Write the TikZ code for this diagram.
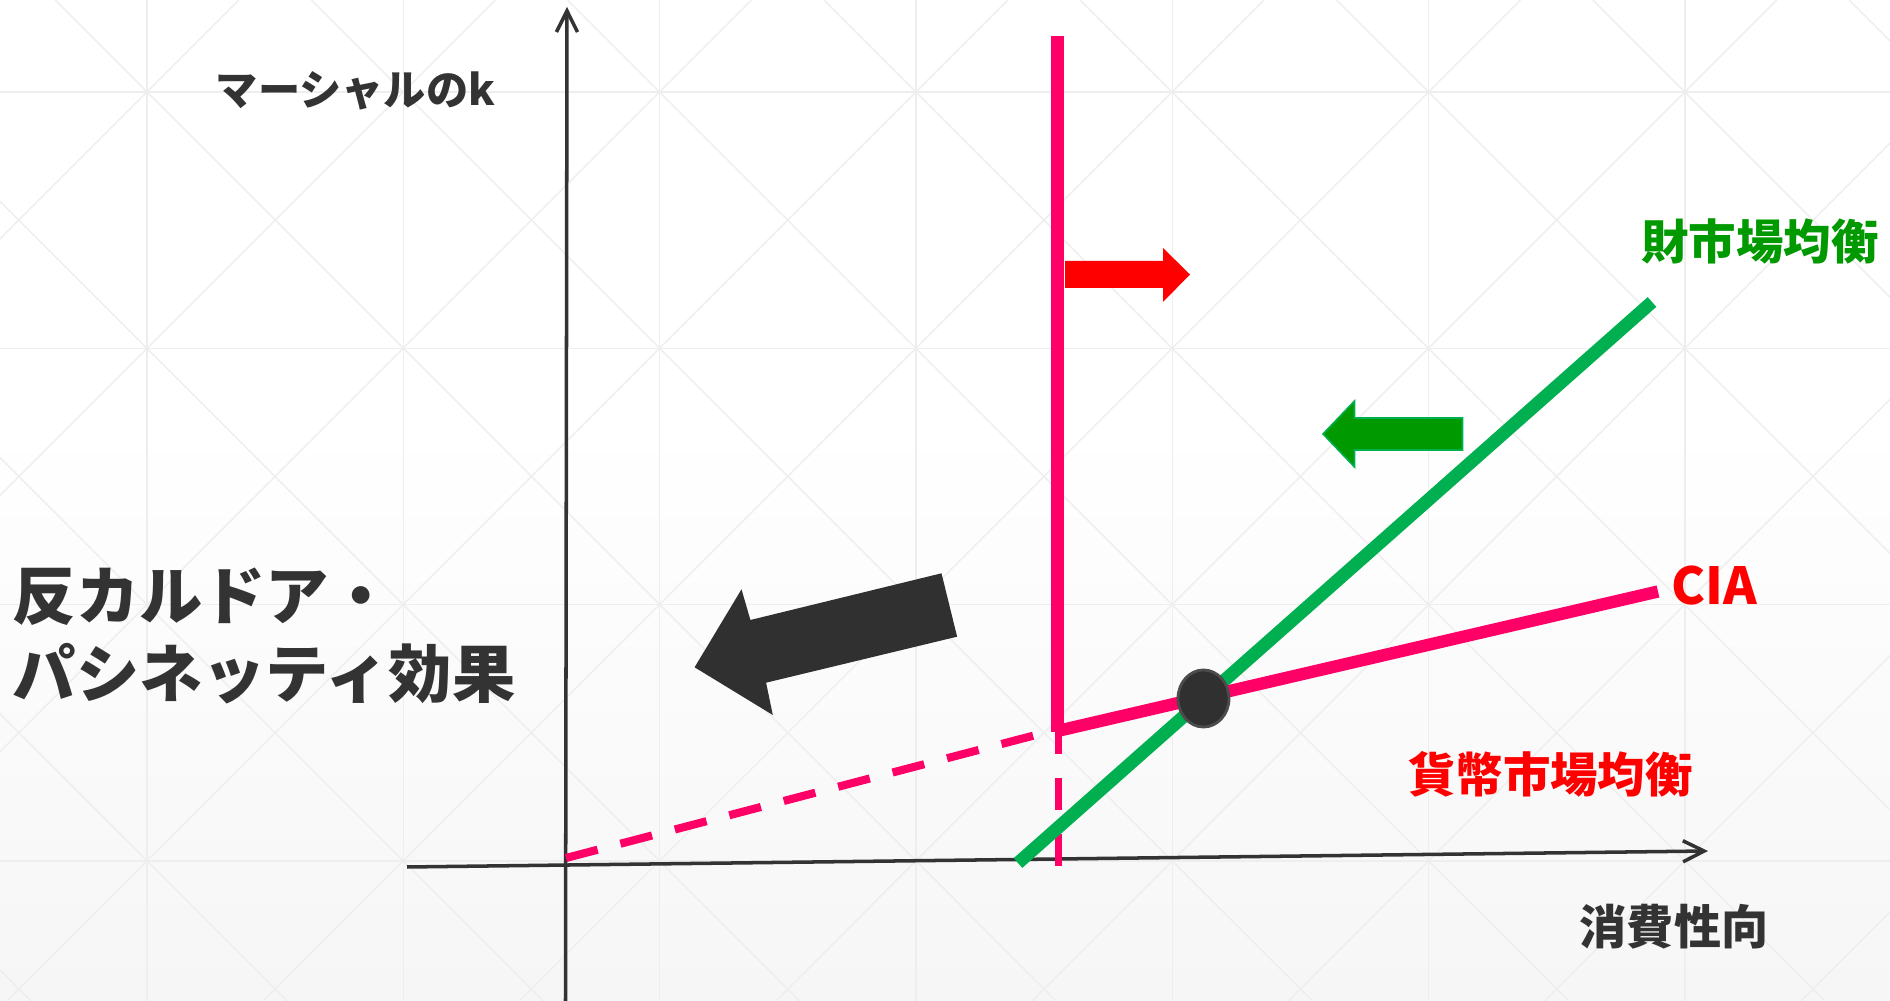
\documentclass[tikz,border=0pt]{standalone}
\usepackage{fontspec}
\newfontfamily\jp{Noto Sans CJK JP}
\usetikzlibrary{arrows.meta,shapes.geometric}
\definecolor{pinkline}{HTML}{FF0066}
\definecolor{greenline}{HTML}{00B050}
\definecolor{greenfill}{HTML}{009900}
\definecolor{redfill}{HTML}{FF0000}
\definecolor{inkgray}{HTML}{333333}
\definecolor{arrowgray}{HTML}{303030}
\definecolor{gridgray}{HTML}{EEEEEE}
\definecolor{bgbottom}{HTML}{F6F6F6}
\tikzset{
  gridline/.style={draw=gridgray,line width=0.4pt},
  axisline/.style={draw=inkgray,line width=1pt,-{Straight Barb[length=6pt,width=6pt,line width=1pt]}},
  thickpink/.style={draw=pinkline,line width=3.5pt,line cap=butt},
  dashpinkA/.style={draw=pinkline,line width=2.3pt,dash pattern=on 9.3pt off 6.7pt},
  dashpinkB/.style={draw=pinkline,line width=2.1pt,dash pattern=on 9.1pt off 6.8pt},
  thickgreen/.style={draw=greenline,line width=3.7pt,line cap=butt},
  eqdot/.style={ellipse,fill=arrowgray,draw=black!70,line width=0.8pt,minimum width=0.51cm,minimum height=0.57cm,inner sep=0pt},
  lbl/.style={inner sep=0pt,font=\jp\bfseries},
}
\begin{document}
\begin{tikzpicture}[x=0.01cm,y=-0.01cm]
\useasboundingbox (0,0) rectangle (1890,1001);
\fill[white] (0,0) rectangle (1890,1001);
\shade[top color=white,bottom color=bgbottom] (0,420) rectangle (1890,1001);
% background grid
\begin{scope}
\clip (0,0) rectangle (1890,1001);
\foreach \k in {0,...,7} \draw[gridline] ({147+256.3*(\k-1)},0) -- ({147+256.3*(\k-1)},1001);
\foreach \k in {0,...,3} \draw[gridline] (0,{92+256.3*\k}) -- (1890,{92+256.3*\k});
\foreach \k in {-4,...,7} \draw[gridline] ({55+256.3*\k},0) -- ({1056+256.3*\k},1001);
\foreach \k in {-1,...,10} \draw[gridline] ({239+256.3*\k},0) -- ({-762+256.3*\k},1001);
\end{scope}
% axes
\coordinate (yb) at (565.5,1001);
\coordinate (yt) at (567,7);
\coordinate (xl) at (407,867);
\coordinate (xr) at (1708,851);
\draw[axisline] (yb) -- (yt);
\draw[axisline] (xl) -- (xr);
% dashed pink
\coordinate (o) at (566,858);
\coordinate (kink) at (1055,730);
\draw[dashpinkA] (o) -- (kink);
\coordinate (vd1) at (1058.5,722);
\coordinate (vd2) at (1058.5,867);
\draw[dashpinkB] (vd1) -- (vd2);
% green line
\coordinate (gA) at (1018,863);
\coordinate (gB) at (1652,302);
\draw[thickgreen] (gA) -- (gB);
% pink solid
\coordinate (vtop) at (1057.5,36);
\coordinate (vbot) at (1057.5,732);
\coordinate (ciaL) at (1057.5,731);
\coordinate (ciaR) at (1658,591.5);
\draw[thickpink] (vtop) -- (vbot);
\draw[thickpink] (ciaL) -- (ciaR);
% equilibrium dot
\node[eqdot] (eq) at (1203.5,698.5) {};
% red block arrow
\fill[redfill] (1065,261) -- (1163,261) -- (1163,248) -- (1190,274.5) -- (1163,302) -- (1163,288) -- (1065,288) -- cycle;
% green block arrow
\filldraw[fill=greenfill,draw=greenline,line width=0.45pt] (1462.5,418) -- (1354.5,418) -- (1354.5,401) -- (1323,434) -- (1354.5,467) -- (1354.5,450) -- (1462.5,450) -- cycle;
% black block arrow
\fill[arrowgray] (694.6,667.3) -- (741.5,589.3) -- (750.4,620) -- (941.5,573.3) -- (957.1,636.7) -- (766.1,682.7) -- (772.8,715) -- cycle;
% labels
\node[lbl,text=inkgray,font=\jp\bfseries\fontsize{12pt}{14pt}\selectfont] (ylab) at (355.5,90.5) {マーシャルのk};
\node[lbl,text=greenfill,font=\jp\bfseries\fontsize{13.5pt}{16pt}\selectfont] (gm) at (1760,241.5) {財市場均衡};
\node[lbl,text=redfill,font=\jp\bfseries\fontsize{14.5pt}{16pt}\selectfont] (cia) at (1714,586) {CIA};
\node[lbl,text=redfill,font=\jp\bfseries\fontsize{13.5pt}{16pt}\selectfont] (mm) at (1550.5,774.5) {貨幣市場均衡};
\node[lbl,text=inkgray,font=\jp\bfseries\fontsize{13.4pt}{16pt}\selectfont] (xlab) at (1674,926.5) {消費性向};
\node[lbl,text=inkgray,font=\jp\bfseries\fontsize{18pt}{21.9pt}\selectfont,align=left,anchor=west] (effect) at (12,636) {反カルドア・\\パシネッティ効果};
\end{tikzpicture}
\end{document}
